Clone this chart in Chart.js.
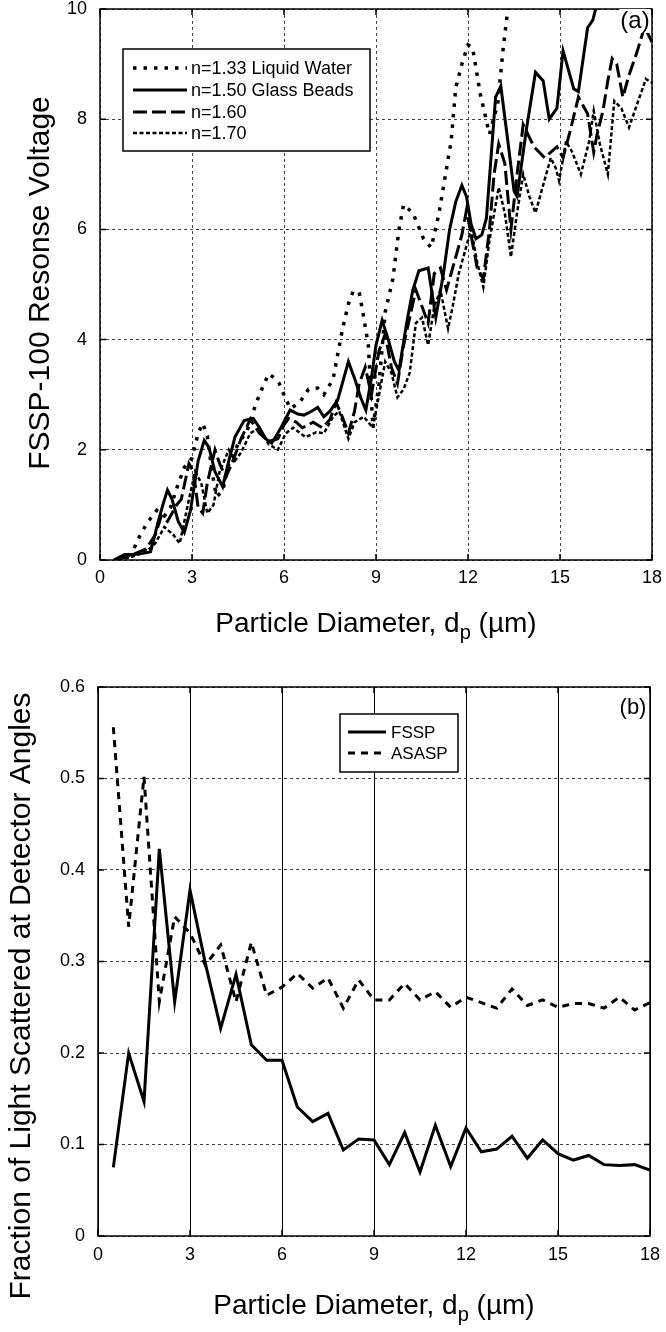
<!DOCTYPE html>
<html>
<head>
<meta charset="utf-8">
<title>FSSP response and scattered fraction</title>
<script src="https://cdn.jsdelivr.net/npm/chart.js@4.4.1/dist/chart.umd.min.js"></script>
<style>
  body { margin: 0; background: #fff; }
  canvas { position: absolute; left: 0; }
  #panelA { top: 0; }
  #panelB { top: 650px; }
</style>
</head>
<body>
<canvas id="panelA" width="666" height="650"></canvas>
<canvas id="panelB" width="666" height="682"></canvas>
<script>
// tick labels
const xTicks = [0, 3, 6, 9, 12, 15, 18];
const voltTicks = [0, 2, 4, 6, 8, 10];
const fracTicks = [0, 0.1, 0.2, 0.3, 0.4, 0.5, 0.6];

// panel (a) - response voltage, one x/y pair of arrays per refractive index
const water133X = [0.6, 0.9, 1.1, 1.35, 1.6, 1.85, 2.1, 2.3, 2.5, 2.75, 3.0, 3.2, 3.35, 3.5, 3.65, 3.8, 4.0, 4.2, 4.5, 4.8, 5.0, 5.15, 5.3, 5.5, 5.7, 5.85, 6.0, 6.2, 6.5, 6.8, 7.1, 7.3, 7.6, 7.9, 8.1, 8.25, 8.45, 8.6, 8.75, 8.9, 9.1, 9.3, 9.55, 9.75, 9.9, 10.2, 10.55, 10.8, 11.05, 11.45, 11.6, 11.8, 12.0, 12.15, 12.4, 12.7, 12.97, 13.15, 13.3, 13.6, 14.2, 14.8, 15.4, 16.0, 16.6, 17.05, 17.4, 18.0];
const water133Y = [0, 0.05, 0.2, 0.5, 0.72, 0.9, 0.8, 0.95, 1.3, 1.68, 1.85, 2.3, 2.48, 2.25, 1.6, 1.15, 1.25, 1.75, 2.1, 2.35, 2.7, 2.93, 3.13, 3.38, 3.3, 3.2, 3.0, 2.75, 2.85, 3.1, 3.12, 3.0, 3.28, 4.17, 4.65, 4.87, 4.87, 4.4, 3.9, 2.4, 3.2, 4.5, 5.1, 6.0, 6.45, 6.3, 5.83, 5.67, 6.28, 7.6, 8.57, 9.0, 9.35, 9.3, 8.46, 7.73, 8.28, 9.3, 10.0, 10.9, 11.3, 11.0, 11.5, 11.2, 10.6, 9.85, 10.7, 11.5];

const glass150X = [0.45, 0.8, 1.1, 1.4, 1.65, 1.9, 2.05, 2.2, 2.35, 2.55, 2.75, 2.95, 3.2, 3.4, 3.55, 3.75, 4.0, 4.2, 4.4, 4.7, 5.0, 5.2, 5.4, 5.6, 5.9, 6.2, 6.45, 6.65, 6.9, 7.1, 7.3, 7.5, 7.75, 7.95, 8.1, 8.3, 8.5, 8.67, 8.85, 9.0, 9.2, 9.4, 9.6, 9.75, 10.0, 10.2, 10.4, 10.7, 10.95, 11.2, 11.4, 11.6, 11.8, 11.95, 12.1, 12.26, 12.45, 12.6, 12.75, 12.9, 13.07, 13.3, 13.5, 13.6, 13.9, 14.2, 14.45, 14.65, 14.9, 15.1, 15.45, 15.6, 15.9, 16.07, 16.3, 16.8, 17.3, 17.65, 18.0];
const glass150Y = [0, 0.1, 0.1, 0.12, 0.15, 0.7, 1.0, 1.27, 1.1, 0.7, 0.5, 0.9, 1.8, 2.17, 2.05, 1.6, 1.33, 1.8, 2.23, 2.53, 2.57, 2.4, 2.2, 2.12, 2.4, 2.72, 2.65, 2.63, 2.7, 2.77, 2.6, 2.7, 2.9, 3.3, 3.6, 3.3, 2.95, 2.72, 3.3, 3.9, 4.35, 4.0, 3.6, 3.44, 4.3, 4.9, 5.25, 5.3, 4.4, 5.2, 6.0, 6.5, 6.8, 6.6, 6.1, 5.83, 5.9, 6.2, 7.3, 8.4, 8.6, 7.6, 6.7, 6.6, 7.8, 8.85, 8.7, 8.0, 8.2, 9.24, 8.55, 8.5, 9.66, 9.8, 10.3, 10.6, 10.3, 9.8, 9.4];

const n160X = [0.5, 1.0, 1.5, 1.8, 2.0, 2.2, 2.5, 2.65, 2.9, 3.05, 3.2, 3.35, 3.5, 3.75, 3.9, 4.1, 4.3, 4.6, 4.9, 5.2, 5.5, 5.8, 6.0, 6.15, 6.4, 6.6, 6.95, 7.25, 7.5, 7.7, 7.9, 8.1, 8.3, 8.45, 8.65, 8.85, 9.1, 9.3, 9.5, 9.7, 9.9, 10.1, 10.3, 10.5, 10.7, 10.9, 11.1, 11.3, 11.5, 11.8, 11.95, 12.1, 12.3, 12.5, 12.7, 12.85, 13.0, 13.2, 13.4, 13.6, 13.8, 14.15, 14.5, 14.9, 15.1, 15.36, 15.6, 15.9, 16.1, 16.2, 16.4, 16.56, 16.7, 16.85, 17.05, 17.25, 17.5, 17.75, 18.0];
const n160Y = [0, 0.08, 0.2, 0.45, 0.8, 0.7, 1.0, 1.1, 1.75, 1.6, 0.95, 0.85, 1.4, 2.0, 1.75, 1.5, 1.75, 2.2, 2.55, 2.3, 2.15, 2.2, 2.45, 2.57, 2.5, 2.4, 2.5, 2.4, 2.55, 2.86, 2.6, 2.3, 2.7, 3.2, 3.5, 3.0, 3.8, 4.1, 3.5, 3.2, 3.9, 4.4, 4.9, 4.6, 4.3, 5.2, 5.3, 4.9, 5.3, 5.9, 6.35, 5.9, 5.3, 5.1, 6.0, 7.0, 7.55, 7.2, 6.0, 7.0, 7.9, 7.5, 7.3, 7.5, 7.3, 7.85, 8.4, 8.1, 7.4, 7.7, 8.15, 8.7, 9.1, 9.0, 8.4, 8.8, 9.2, 9.66, 10.3];

const n170X = [0.6, 1.0, 1.5, 1.8, 2.1, 2.4, 2.6, 2.9, 3.1, 3.3, 3.5, 3.7, 3.9, 4.2, 4.4, 4.6, 4.9, 5.2, 5.5, 5.8, 6.06, 6.3, 6.7, 7.05, 7.3, 7.6, 7.8, 8.1, 8.3, 8.6, 8.9, 9.1, 9.3, 9.5, 9.7, 9.9, 10.1, 10.3, 10.5, 10.7, 10.9, 11.1, 11.35, 11.5, 11.7, 11.9, 12.1, 12.3, 12.5, 12.7, 13.0, 13.2, 13.4, 13.6, 13.8, 14.0, 14.2, 14.5, 14.7, 14.87, 14.97, 15.2, 15.4, 15.68, 15.95, 16.1, 16.3, 16.56, 16.77, 17.0, 17.25, 17.55, 17.8, 18.0];
const n170Y = [0, 0.05, 0.15, 0.3, 0.6, 0.45, 0.3, 1.1, 1.6, 1.4, 0.85, 1.0, 1.6, 2.0, 1.8, 1.95, 2.3, 2.4, 2.1, 2.0, 2.3, 2.4, 2.23, 2.32, 2.3, 2.6, 2.7, 2.2, 2.5, 2.6, 2.4, 3.0, 3.6, 3.4, 2.95, 3.1, 3.4, 4.3, 4.4, 3.9, 4.6, 4.9, 4.2, 4.6, 5.2, 5.6, 6.0, 5.4, 4.95, 5.8, 6.76, 6.3, 5.5, 6.3, 7.0, 6.6, 6.3, 6.9, 7.3, 7.1, 6.88, 7.6, 7.4, 7.0, 7.6, 8.15, 7.55, 7.0, 8.33, 8.2, 7.85, 8.33, 8.73, 8.66];

// panel (b) - fraction of light reaching the detector angles
const diam = [0.5, 1, 1.5, 2, 2.5, 3, 3.5, 4, 4.5, 5, 5.5, 6, 6.5, 7, 7.5, 8, 8.5, 9, 9.5, 10, 10.5, 11, 11.5, 12, 12.5, 13, 13.5, 14, 14.5, 15, 15.5, 16, 16.5, 17, 17.5, 18];
const fssp = [0.075, 0.2, 0.147, 0.423, 0.256, 0.378, 0.298, 0.227, 0.286, 0.209, 0.192, 0.192, 0.141, 0.125, 0.134, 0.094, 0.106, 0.105, 0.078, 0.113, 0.07, 0.121, 0.076, 0.118, 0.092, 0.095, 0.109, 0.085, 0.105, 0.09, 0.083, 0.088, 0.078, 0.077, 0.078, 0.072];
const asasp = [0.556, 0.338, 0.502, 0.256, 0.349, 0.331, 0.296, 0.318, 0.256, 0.321, 0.263, 0.272, 0.287, 0.271, 0.282, 0.249, 0.28, 0.258, 0.258, 0.276, 0.258, 0.267, 0.25, 0.261, 0.255, 0.249, 0.27, 0.252, 0.258, 0.25, 0.254, 0.254, 0.249, 0.261, 0.247, 0.255];

const FONT = '"Liberation Sans", Arial, Helvetica, sans-serif';

function pts(xs, ys) {
  return xs.map((x, i) => ({x: x, y: ys[i]}));
}

// fixed axis boxes so both plot areas sit where the original's do
function noPad(s) { s.paddingTop = 0; s.paddingBottom = 0; s.paddingLeft = 0; s.paddingRight = 0; }
function fixWidth(w) { return s => { s.width = w; noPad(s); }; }
function fixHeight(h) { return s => { s.height = h; noPad(s); }; }
function useTicks(list) { return s => { s.ticks = list.map(v => ({value: v})); }; }

// frame, tick marks, legend box, panel tag and axis titles
const paperPlugin = {
  id: 'paper',
  afterDatasetsDraw(chart, args, o) {
    const ctx = chart.ctx;
    const a = chart.chartArea;
    const xs = chart.scales.x, ys = chart.scales.y;
    ctx.save();
    ctx.setLineDash([]);
    ctx.strokeStyle = '#000';
    ctx.lineWidth = 1.5;
    ctx.strokeRect(a.left, a.top, a.right - a.left, a.bottom - a.top);
    ctx.beginPath();
    xs.ticks.forEach(t => {
      const px = xs.getPixelForValue(t.value);
      ctx.moveTo(px, a.bottom); ctx.lineTo(px, a.bottom - 6);
      ctx.moveTo(px, a.top); ctx.lineTo(px, a.top + 6);
    });
    ys.ticks.forEach(t => {
      const py = ys.getPixelForValue(t.value);
      ctx.moveTo(a.left, py); ctx.lineTo(a.left + 6, py);
      ctx.moveTo(a.right, py); ctx.lineTo(a.right - 6, py);
    });
    ctx.stroke();

    // legend
    const L = o.legend;
    ctx.fillStyle = '#fff';
    ctx.fillRect(L.x, L.y, L.w, L.h);
    ctx.lineWidth = 1.5;
    ctx.strokeRect(L.x, L.y, L.w, L.h);
    ctx.font = L.size + 'px ' + FONT;
    ctx.textBaseline = 'middle';
    ctx.textAlign = 'left';
    chart.data.datasets.forEach((ds, i) => {
      const ry = L.rowY[i];
      ctx.beginPath();
      ctx.setLineDash(ds.borderDash || []);
      ctx.lineWidth = ds.borderWidth;
      ctx.moveTo(L.lineX1, ry);
      ctx.lineTo(L.lineX2, ry);
      ctx.stroke();
      ctx.setLineDash([]);
      ctx.fillStyle = '#000';
      ctx.fillText(ds.label, L.textX, ry + 1);
    });

    // panel tag
    const T = o.tag;
    ctx.font = T.size + 'px ' + FONT;
    ctx.textAlign = 'center';
    const tw = ctx.measureText(T.text).width;
    ctx.fillStyle = '#fff';
    ctx.fillRect(T.x - tw / 2 - 1, T.y - T.size / 2, tw + 2, T.size);
    ctx.fillStyle = '#000';
    ctx.fillText(T.text, T.x, T.y);

    // y title
    ctx.save();
    ctx.translate(o.yTitle.x, o.yTitle.y);
    ctx.rotate(-Math.PI / 2);
    ctx.font = o.yTitle.size + 'px ' + FONT;
    ctx.fillText(o.yTitle.text, 0, 0);
    ctx.restore();

    // x title with subscript p
    const sz = o.xTitle.size;
    const big = sz + 'px ' + FONT;
    const small = Math.round(sz * 0.7) + 'px ' + FONT;
    const p1 = 'Particle Diameter, d', p2 = 'p', p3 = ' (\u00b5m)';
    ctx.font = big;
    const w1 = ctx.measureText(p1).width, w3 = ctx.measureText(p3).width;
    ctx.font = small;
    const w2 = ctx.measureText(p2).width;
    let cx = o.xTitle.x - (w1 + w2 + w3) / 2;
    ctx.textAlign = 'left';
    ctx.textBaseline = 'alphabetic';
    const base = o.xTitle.y + sz * 0.35;
    ctx.font = big;
    ctx.fillText(p1, cx, base);
    cx += w1;
    ctx.font = small;
    ctx.fillText(p2, cx, base + sz * 0.25);
    cx += w2;
    ctx.font = big;
    ctx.fillText(p3, cx, base);
    ctx.restore();
  }
};

const tickFont = {family: FONT, size: 18};

new Chart(document.getElementById('panelA'), {
  type: 'line',
  data: {
    datasets: [
      {label: 'n=1.33 Liquid Water', data: pts(water133X, water133Y), borderDash: [3.5, 7], borderWidth: 3.5},
      {label: 'n=1.50 Glass Beads', data: pts(glass150X, glass150Y), borderWidth: 3},
      {label: 'n=1.60', data: pts(n160X, n160Y), borderDash: [14, 5], borderWidth: 3},
      {label: 'n=1.70', data: pts(n170X, n170Y), borderDash: [4, 2.5], borderWidth: 2.5}
    ]
  },
  options: {
    responsive: false,
    animation: false,
    devicePixelRatio: 1,
    layout: {padding: {left: 0, top: 9, right: 14, bottom: 0}},
    elements: {
      point: {radius: 0},
      line: {borderColor: '#000', tension: 0, fill: false, borderCapStyle: 'butt'}
    },
    scales: {
      x: {
        type: 'linear', min: 0, max: 18,
        afterBuildTicks: useTicks(xTicks), afterFit: fixHeight(90),
        grid: {color: '#444', lineWidth: 1, drawTicks: false},
        border: {display: false, dash: [3, 3]},
        ticks: {padding: 7, color: '#000', font: tickFont, maxRotation: 0}
      },
      y: {
        min: 0, max: 10,
        afterBuildTicks: useTicks(voltTicks), afterFit: fixWidth(100),
        grid: {color: '#444', lineWidth: 1, drawTicks: false},
        border: {display: false, dash: [3, 3]},
        ticks: {padding: 13, color: '#000', font: tickFont}
      }
    },
    plugins: {
      legend: {display: false},
      tooltip: {enabled: false},
      paper: {
        legend: {x: 123, y: 49, w: 247, h: 102, rowY: [68, 90, 112, 133], lineX1: 133, lineX2: 187, textX: 191, size: 18},
        tag: {text: '(a)', x: 635, y: 21, size: 24},
        yTitle: {text: 'FSSP-100 Resonse Voltage', x: 41, y: 283, size: 30},
        xTitle: {x: 376, y: 622, size: 28}
      }
    }
  },
  plugins: [paperPlugin]
});

new Chart(document.getElementById('panelB'), {
  type: 'line',
  data: {
    datasets: [
      {label: 'FSSP', data: pts(diam, fssp), borderWidth: 3},
      {label: 'ASASP', data: pts(diam, asasp), borderDash: [7, 6], borderWidth: 3}
    ]
  },
  options: {
    responsive: false,
    animation: false,
    devicePixelRatio: 1,
    layout: {padding: {left: 0, top: 37, right: 16, bottom: 0}},
    elements: {
      point: {radius: 0},
      line: {borderColor: '#000', tension: 0, fill: false, borderCapStyle: 'butt'}
    },
    scales: {
      x: {
        type: 'linear', min: 0, max: 18,
        afterBuildTicks: useTicks(xTicks), afterFit: fixHeight(96),
        grid: {color: '#000', lineWidth: 1, drawTicks: false},
        border: {display: false},
        ticks: {padding: 8, color: '#000', font: tickFont, maxRotation: 0}
      },
      y: {
        min: 0, max: 0.6,
        afterBuildTicks: useTicks(fracTicks), afterFit: fixWidth(98),
        grid: {color: '#444', lineWidth: 1, drawTicks: false},
        border: {display: false, dash: [3, 3]},
        ticks: {padding: 13, color: '#000', font: tickFont, callback: v => v === 0 ? '0' : v.toFixed(1)}
      }
    },
    plugins: {
      legend: {display: false},
      tooltip: {enabled: false},
      paper: {
        legend: {x: 340, y: 64, w: 118, h: 58, rowY: [82, 103], lineX1: 348, lineX2: 386, textX: 391, size: 17},
        tag: {text: '(b)', x: 633, y: 58, size: 22},
        yTitle: {text: 'Fraction of Light Scattered at Detector Angles', x: 22, y: 346, size: 30},
        xTitle: {x: 374, y: 654, size: 28}
      }
    }
  },
  plugins: [paperPlugin]
});
</script>
</body>
</html>
